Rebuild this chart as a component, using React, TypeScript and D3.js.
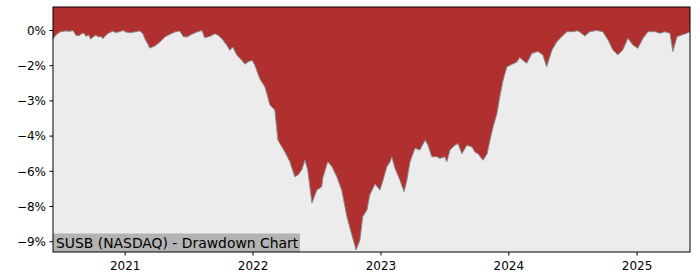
import React from "react";
import * as d3 from "d3";

const dates: string[] = [
  "2020-06-09","2020-06-17","2020-06-29","2020-07-13","2020-07-28","2020-08-05","2020-08-13","2020-08-22",
  "2020-08-30","2020-09-05","2020-09-11","2020-09-19","2020-09-25","2020-10-01","2020-10-09","2020-10-18",
  "2020-10-24","2020-10-29","2020-11-07","2020-11-15","2020-11-27","2020-12-05","2020-12-14","2020-12-25",
  "2021-01-06","2021-01-17","2021-02-01","2021-02-12","2021-02-21","2021-02-26","2021-03-07","2021-03-12",
  "2021-03-27","2021-04-10","2021-04-24","2021-05-09","2021-05-23","2021-06-06","2021-06-15","2021-06-26",
  "2021-07-10","2021-07-25","2021-08-08","2021-08-16","2021-08-31","2021-09-14","2021-09-23","2021-10-04",
  "2021-10-18","2021-10-27","2021-11-04","2021-11-16","2021-11-30","2021-12-09","2021-12-17","2021-12-29",
  "2022-01-06","2022-01-20","2022-02-04","2022-02-12","2022-02-18","2022-03-04","2022-03-13","2022-04-02",
  "2022-04-16","2022-04-30","2022-05-09","2022-05-20","2022-05-29","2022-06-06","2022-06-18","2022-07-02",
  "2022-07-16","2022-07-19","2022-08-02","2022-08-14","2022-08-28","2022-09-11","2022-09-26","2022-10-10",
  "2022-10-22","2022-11-02","2022-11-10","2022-11-22","2022-11-30","2022-12-15","2022-12-29","2023-01-07",
  "2023-01-18","2023-01-27","2023-02-01","2023-02-10","2023-02-24","2023-03-08","2023-03-16","2023-03-25",
  "2023-04-08","2023-04-22","2023-05-07","2023-05-15","2023-05-26","2023-06-10","2023-06-18","2023-07-02",
  "2023-07-08","2023-07-17","2023-07-31","2023-08-09","2023-08-20","2023-09-03","2023-09-18","2023-09-26",
  "2023-10-05","2023-10-19","2023-10-31","2023-11-08","2023-11-17","2023-11-28","2023-12-06","2023-12-15",
  "2023-12-26","2024-01-04","2024-01-12","2024-01-24","2024-02-01","2024-02-10","2024-02-21","2024-03-07",
  "2024-03-24","2024-04-07","2024-04-18","2024-05-03","2024-05-17","2024-05-31","2024-06-15","2024-07-02",
  "2024-07-16","2024-08-05","2024-08-19","2024-09-08","2024-09-25","2024-10-10","2024-10-24","2024-11-07",
  "2024-11-21","2024-12-06","2024-12-20","2025-01-03","2025-01-18","2025-02-01","2025-02-21","2025-03-07",
  "2025-03-21","2025-04-05","2025-04-13","2025-04-25","2025-05-09","2025-05-23","2025-06-01"
];

const drawdown: number[] = [
  -0.35,-0.20,-0.06,-0.02,-0.03,0.0,-0.20,-0.22,
  -0.14,-0.11,-0.25,-0.20,-0.37,-0.28,-0.20,-0.28,
  -0.25,-0.35,-0.20,-0.11,-0.03,-0.09,-0.06,0.0,
  -0.08,-0.09,-0.05,-0.02,-0.14,-0.35,-0.59,-0.75,
  -0.66,-0.49,-0.28,-0.16,-0.06,-0.02,-0.25,-0.28,
  -0.16,-0.06,0.0,-0.31,-0.25,-0.14,-0.20,-0.35,
  -0.63,-0.84,-0.70,-1.06,-1.27,-1.44,-1.34,-1.27,
  -1.48,-2.05,-2.41,-2.83,-3.17,-3.39,-4.67,-5.18,
  -5.59,-6.23,-6.16,-5.94,-5.52,-5.94,-7.35,-6.80,
  -6.66,-6.28,-5.59,-5.80,-6.23,-6.80,-7.95,-8.71,
  -9.35,-8.93,-7.93,-7.65,-7.01,-6.54,-6.80,-6.37,
  -5.80,-5.59,-5.38,-5.87,-6.37,-6.87,-6.37,-5.59,
  -5.02,-5.09,-4.67,-4.88,-5.38,-5.38,-5.45,-5.38,
  -5.59,-5.09,-4.89,-4.82,-5.25,-4.89,-4.96,-5.18,
  -5.25,-5.53,-5.25,-4.68,-4.11,-3.54,-2.83,-2.15,
  -1.56,-1.48,-1.43,-1.34,-1.15,-1.27,-1.40,-0.97,
  -0.90,-1.04,-1.54,-0.83,-0.48,-0.26,-0.05,-0.05,
  -0.01,-0.23,-0.05,0.0,-0.05,-0.40,-0.83,-1.04,
  -0.83,-0.33,-0.62,-0.76,-0.33,-0.05,-0.05,-0.12,
  -0.05,-0.12,-0.90,-0.26,-0.19,-0.12,-0.05
];

const yTickValues: number[] = [0, -1.5, -3, -4.5, -6, -7.5, -9];
const yTickLabels: string[] = ["0%", "−2%", "−3%", "−4%", "−6%", "−8%", "−9%"];
const xTickYears: number[] = [2021, 2022, 2023, 2024, 2025];
const title = "SUSB (NASDAQ) - Drawdown Chart";

const W = 700, H = 280;
const L = 53, R = 690, T = 7, B = 252;

export default function App() {
  const parse = d3.timeParse("%Y-%m-%d");
  const data = dates.map((d, i) => ({ date: parse(d) as Date, v: drawdown[i] }));
  const x = d3.scaleTime()
    .domain(d3.extent(data, (d) => d.date) as [Date, Date])
    .range([L, R]);
  const y = d3.scaleLinear().domain([-9.438, 1.001]).range([B, T]);

  const area = d3.area<{ date: Date; v: number }>()
    .x((d) => x(d.date))
    .y0(B)
    .y1((d) => y(d.v));
  const line = d3.line<{ date: Date; v: number }>()
    .x((d) => x(d.date))
    .y((d) => y(d.v));

  const font = "'DejaVu Sans', sans-serif";
  return (
    <svg width={W} height={H} style={{ position: "fixed", left: 0, top: 0, background: "#fff" }}>
      <rect x={L} y={T} width={R - L} height={B - T} fill="#b03030" />
      <path d={area(data) || ""} fill="#ececec" />
      <path d={line(data) || ""} fill="none" stroke="#8a8a8a" strokeWidth={1} />
      <rect x={L} y={233.5} width={247} height={B - 233.5} fill="#b3b3b3" />
      <text x={56} y={247.5} fontFamily={font} fontSize={13.9} fill="#000">{title}</text>
      <rect x={L} y={T} width={R - L} height={B - T} fill="none" stroke="#000" strokeWidth={1} />
      {yTickValues.map((v, i) => (
        <g key={"y" + i}>
          <line x1={L - 3.5} x2={L} y1={y(v)} y2={y(v)} stroke="#000" strokeWidth={1} />
          <text x={L - 7} y={y(v)} dy="0.35em" textAnchor="end" fontFamily={font} fontSize={12} fill="#000">
            {yTickLabels[i]}
          </text>
        </g>
      ))}
      {xTickYears.map((yr) => {
        const px = x(new Date(yr, 0, 1));
        return (
          <g key={"x" + yr}>
            <line x1={px} x2={px} y1={B} y2={B + 3.5} stroke="#000" strokeWidth={1} />
            <text x={px} y={B + 18} textAnchor="middle" fontFamily={font} fontSize={12} fill="#000">
              {yr}
            </text>
          </g>
        );
      })}
    </svg>
  );
}
